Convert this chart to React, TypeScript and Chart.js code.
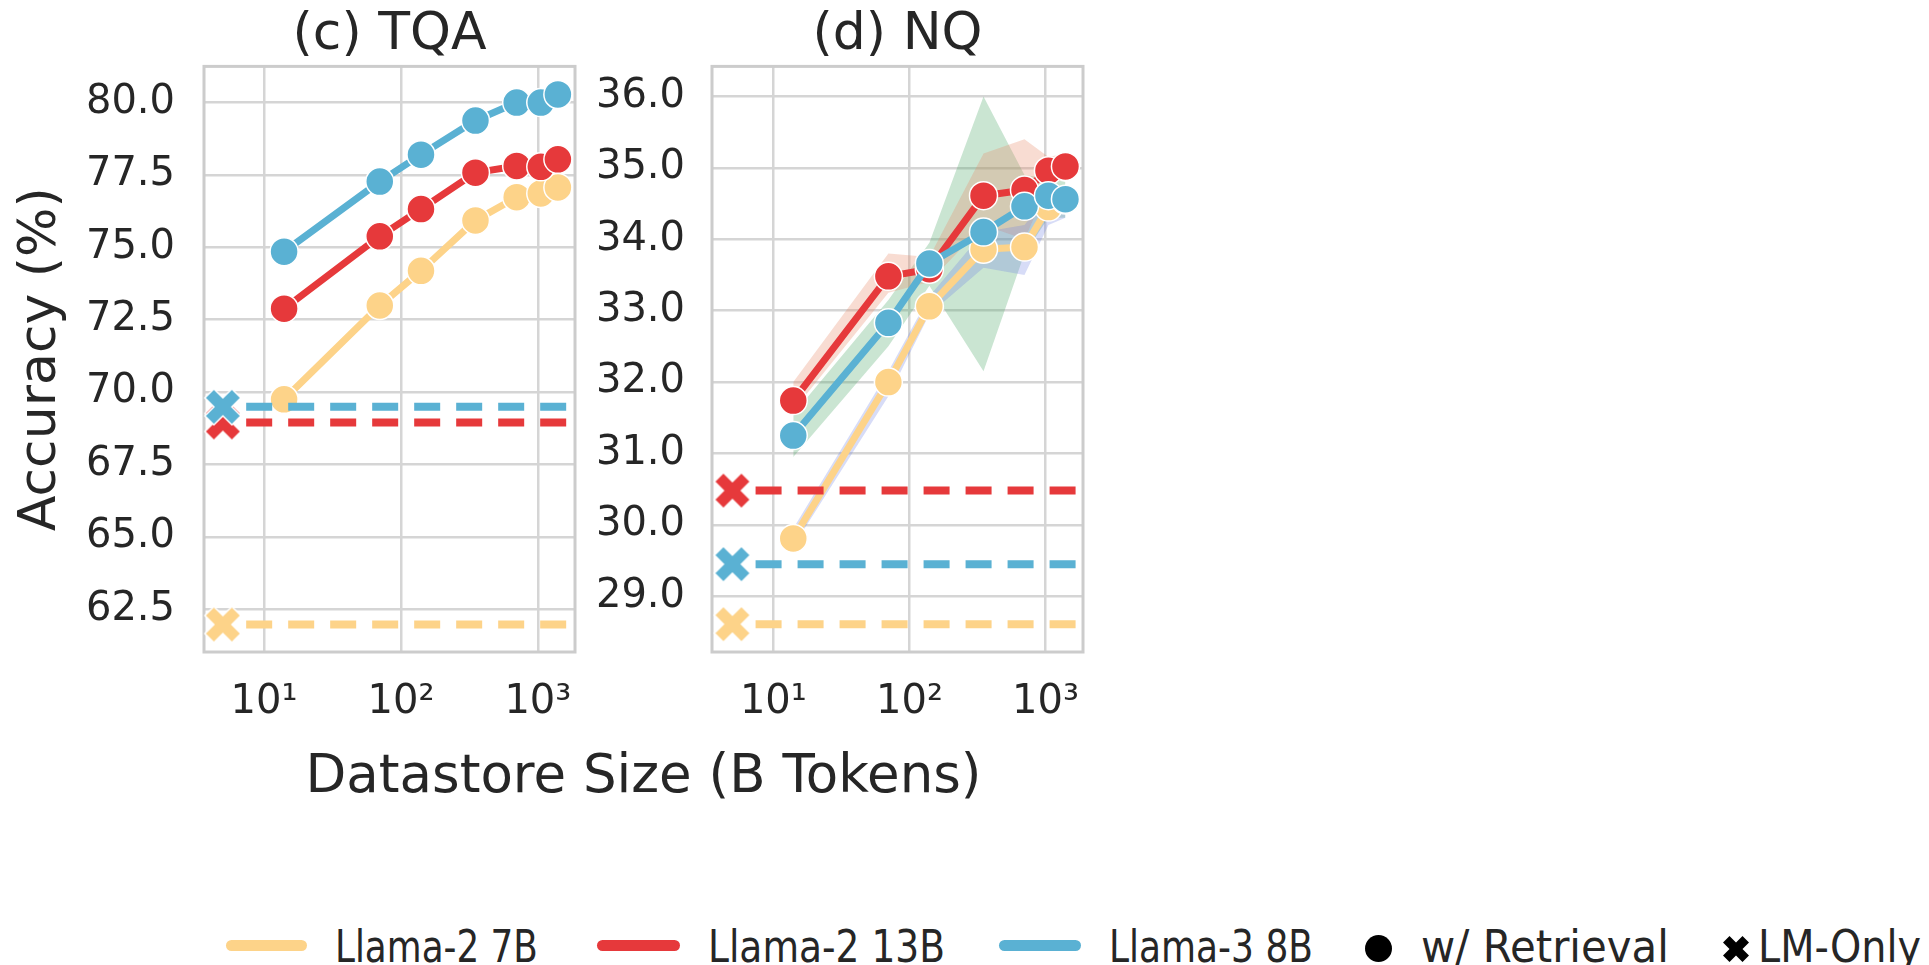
import React, { useEffect, useRef } from "react";
import { Chart, registerables } from "chart.js";

Chart.register(...registerables);

// ---------------- data ----------------
const datastoreSizes = [14, 70, 140, 350, 700, 1050, 1400];
const lmOnlySize = [5];
const lmOnlyLineSpan = [7.4, 1730];
const xTickValues = [10, 100, 1000];
const xTickLabels = ["10¹", "10²", "10³"];
const modelNames = ["Llama-2 7B", "Llama-2 13B", "Llama-3 8B"];

// (c) TQA
const tqaLlama2_7B = [69.75, 72.99, 74.19, 75.93, 76.73, 76.86, 77.07];
const tqaLlama2_13B = [72.88, 75.38, 76.32, 77.58, 77.81, 77.78, 78.04];
const tqaLlama3_8B = [74.85, 77.27, 78.2, 79.38, 80.0, 80.0, 80.28];
const tqaLMOnly = [61.97, 68.95, 69.49];
const tqaYTicks = [62.5, 65.0, 67.5, 70.0, 72.5, 75.0, 77.5, 80.0];
const tqaYRange = [61.02, 81.25];
const tqaXRange = [3.64, 1867];

// (d) NQ
const nqLlama2_7B = [29.81, 32.0, 33.06, 33.86, 33.89, 34.45, 34.55];
const nqLlama2_13B = [31.74, 33.48, 33.58, 34.61, 34.69, 34.96, 35.02];
const nqLlama3_8B = [31.25, 32.83, 33.66, 34.1, 34.46, 34.61, 34.56];
const nqLMOnly = [28.61, 30.48, 29.45];
const nqBand7BLower = [29.7, 31.8, 32.95, 33.6, 33.5, 34.2, 34.3];
const nqBand7BUpper = [29.95, 32.15, 33.2, 34.1, 34.2, 34.6, 34.7];
const nqBand13BLower = [31.6, 33.25, 33.4, 34.2, 34.0, 34.75, 34.85];
const nqBand13BUpper = [32.0, 33.8, 33.75, 35.2, 35.4, 35.15, 35.2];
const nqBand8BLower = [30.95, 32.5, 33.35, 32.15, 33.8, 34.3, 34.3];
const nqBand8BUpper = [31.55, 33.15, 33.95, 36.0, 34.9, 34.85, 34.8];
const nqYTicks = [29.0, 30.0, 31.0, 32.0, 33.0, 34.0, 35.0, 36.0];
const nqYRange = [28.22, 36.42];
const nqXRange = [3.54, 1884];

// ---------------- styles ----------------
const FONT_FAMILY = "'DejaVu Sans', 'Liberation Sans', sans-serif";
const TEXT_COLOR = "#262626";
const GRID_COLOR = "#d5d5d5";
const FRAME_COLOR = "#cccccc";
const MODEL_COLORS = ["#fdd389", "#e6393b", "#5ab1d3"];
const BAND_COLORS = [
  "rgba(110, 130, 225, 0.28)",
  "rgba(232, 140, 105, 0.30)",
  "rgba(80, 170, 105, 0.30)",
];

Chart.defaults.font.family = FONT_FAMILY;
Chart.defaults.color = TEXT_COLOR;

const X_PATH: number[][] = [
  [-1, -2], [0, -1], [1, -2], [2, -1], [1, 0], [2, 1],
  [1, 2], [0, 1], [-1, 2], [-2, 1], [-1, 0], [-2, -1],
];

function xMarkerCanvas(color: string, size: number, edge: number) {
  const c = document.createElement("canvas");
  const pad = 3;
  c.width = size + pad * 2;
  c.height = size + pad * 2;
  const ctx = c.getContext("2d")!;
  const u = size / 4;
  ctx.translate(c.width / 2, c.height / 2);
  ctx.beginPath();
  X_PATH.forEach(([x, y], i) => (i ? ctx.lineTo(x * u, y * u) : ctx.moveTo(x * u, y * u)));
  ctx.closePath();
  ctx.fillStyle = color;
  ctx.fill();
  if (edge > 0) {
    ctx.strokeStyle = "#ffffff";
    ctx.lineWidth = edge;
    ctx.lineJoin = "miter";
    ctx.stroke();
  }
  return c;
}

const framePlugin = {
  id: "frameBox",
  beforeDatasetsDraw(chart: any) {
    const { ctx, chartArea: a } = chart;
    ctx.save();
    ctx.strokeStyle = FRAME_COLOR;
    ctx.lineWidth = 3;
    ctx.strokeRect(a.left, a.top, a.right - a.left, a.bottom - a.top);
    ctx.restore();
  },
};

interface PanelSpec {
  title: string;
  series: number[][];
  lmOnly: number[];
  bandsLower?: number[][];
  bandsUpper?: number[][];
  yRange: number[];
  yTicks: number[];
  xRange: number[];
  yAxisWidth: number;
  yTickPad: number;
  yTitle?: string;
  padRight: number;
}

function buildConfig(spec: PanelSpec): any {
  const toPts = (ys: number[]) => ys.map((y, i) => ({ x: datastoreSizes[i], y }));
  const datasets: any[] = [];
  if (spec.bandsLower && spec.bandsUpper) {
    spec.bandsLower.forEach((lo, m) => {
      datasets.push({
        label: modelNames[m] + " band low",
        data: toPts(lo),
        borderWidth: 0,
        pointRadius: 0,
        fill: false,
        order: 10,
      });
      datasets.push({
        label: modelNames[m] + " band high",
        data: toPts(spec.bandsUpper![m]),
        borderWidth: 0,
        pointRadius: 0,
        fill: "-1",
        backgroundColor: BAND_COLORS[m],
        order: 10,
      });
    });
  }
  spec.series.forEach((ys, m) => {
    datasets.push({
      label: modelNames[m] + " w/ Retrieval",
      data: toPts(ys),
      borderColor: MODEL_COLORS[m],
      backgroundColor: MODEL_COLORS[m],
      borderWidth: 7,
      pointRadius: 14,
      pointBorderWidth: 1.5,
      pointBorderColor: "#ffffff",
      pointBackgroundColor: MODEL_COLORS[m],
      borderJoinStyle: "round",
      borderCapStyle: "round",
      tension: 0,
      fill: false,
      order: 6 - m,
      clip: false,
    });
  });
  spec.lmOnly.forEach((v, m) => {
    datasets.push({
      label: modelNames[m] + " LM-Only line",
      data: lmOnlyLineSpan.map((x) => ({ x, y: v })),
      borderColor: MODEL_COLORS[m],
      borderWidth: 8,
      borderDash: [26, 16],
      borderCapStyle: "butt",
      pointRadius: 0,
      fill: false,
      order: 3 - m,
      clip: false,
    });
    datasets.push({
      label: modelNames[m] + " LM-Only",
      data: lmOnlySize.map((x) => ({ x, y: v })),
      showLine: false,
      pointStyle: xMarkerCanvas(MODEL_COLORS[m], 36, 1.5),
      pointRadius: 18,
      order: 3 - m,
      clip: false,
    });
  });

  return {
    type: "line",
    data: { datasets },
    plugins: [framePlugin],
    options: {
      responsive: false,
      animation: false,
      events: [],
      layout: { padding: { left: 0, top: 0, right: spec.padRight, bottom: 0 } },
      plugins: {
        legend: { display: false },
        tooltip: { enabled: false },
        title: {
          display: true,
          text: spec.title,
          fullSize: false,
          color: TEXT_COLOR,
          font: { size: 52, weight: "normal", family: FONT_FAMILY },
          padding: { top: 4, bottom: 0 },
        },
      },
      scales: {
        x: {
          type: "logarithmic",
          min: spec.xRange[0],
          max: spec.xRange[1],
          bounds: "data",
          afterBuildTicks: (s: any) => {
            s.ticks = xTickValues.map((value) => ({ value }));
          },
          afterFit: (s: any) => {
            s.height = 88;
          },
          ticks: {
            autoSkip: false,
            maxRotation: 0,
            minRotation: 0,
            padding: 27,
            color: TEXT_COLOR,
            font: { size: 40, family: FONT_FAMILY },
            callback: (_v: any, i: number) => xTickLabels[i],
          },
          grid: { color: GRID_COLOR, lineWidth: 2.5, drawTicks: false },
          border: { display: false },
        },
        y: {
          type: "linear",
          min: spec.yRange[0],
          max: spec.yRange[1],
          bounds: "data",
          afterBuildTicks: (s: any) => {
            s.ticks = spec.yTicks.map((value) => ({ value }));
          },
          afterFit: (s: any) => {
            s.width = spec.yAxisWidth;
          },
          ticks: {
            padding: spec.yTickPad,
            color: TEXT_COLOR,
            font: { size: 40, family: FONT_FAMILY },
            callback: (v: any) => Number(v).toFixed(1),
          },
          grid: { color: GRID_COLOR, lineWidth: 2.5, drawTicks: false },
          border: { display: false },
          title: spec.yTitle
            ? {
                display: true,
                text: spec.yTitle,
                color: TEXT_COLOR,
                font: { size: 52, family: FONT_FAMILY },
                padding: { top: 10, bottom: 0 },
              }
            : { display: false },
        },
      },
    },
  };
}

const tqaSpec: PanelSpec = {
  title: "(c) TQA",
  series: [tqaLlama2_7B, tqaLlama2_13B, tqaLlama3_8B],
  lmOnly: tqaLMOnly,
  yRange: tqaYRange,
  yTicks: tqaYTicks,
  xRange: tqaXRange,
  yAxisWidth: 204,
  yTickPad: 29,
  yTitle: "Accuracy (%)",
  padRight: 65,
};

const nqSpec: PanelSpec = {
  title: "(d) NQ",
  series: [nqLlama2_7B, nqLlama2_13B, nqLlama3_8B],
  lmOnly: nqLMOnly,
  bandsLower: [nqBand7BLower, nqBand13BLower, nqBand8BLower],
  bandsUpper: [nqBand7BUpper, nqBand13BUpper, nqBand8BUpper],
  yRange: nqYRange,
  yTicks: nqYTicks,
  xRange: nqXRange,
  yAxisWidth: 152,
  yTickPad: 27,
  padRight: 77,
};

function Panel(props: { spec: PanelSpec; left: number; width: number; height: number }) {
  const ref = useRef<HTMLCanvasElement>(null);
  useEffect(() => {
    const chart = new Chart(ref.current!, buildConfig(props.spec));
    return () => chart.destroy();
  }, []);
  return (
    <canvas
      ref={ref}
      width={props.width}
      height={props.height}
      style={{ position: "absolute", left: props.left, top: 0, width: props.width, height: props.height }}
    />
  );
}

const LEGEND_FONT_SIZE = 45;
const legendTexts = [
  { text: modelNames[0], left: 335, width: 203 },
  { text: modelNames[1], left: 708, width: 237 },
  { text: modelNames[2], left: 1109, width: 204 },
  { text: "w/ Retrieval", left: 1421, width: 248 },
  { text: "LM-Only", left: 1758, width: 163 },
];
const legendLines = [
  { left: 226, width: 81 },
  { left: 597, width: 83 },
  { left: 999, width: 82 },
];

function measure(text: string, size: number) {
  const ctx = document.createElement("canvas").getContext("2d")!;
  ctx.font = `${size}px ${FONT_FAMILY}`;
  return ctx.measureText(text).width || 1;
}

export default function App() {
  const xPathStr =
    X_PATH.map(([x, y], i) => `${i ? "L" : "M"}${(x * 6.5).toFixed(2)} ${(y * 6.5).toFixed(2)}`).join(" ") + " Z";
  return (
    <div
      style={{
        position: "fixed",
        left: 0,
        top: 0,
        width: 1929,
        height: 965,
        overflow: "hidden",
        background: "#ffffff",
        fontFamily: FONT_FAMILY,
        color: TEXT_COLOR,
      }}
    >
      <Panel spec={tqaSpec} left={0} width={640} height={740} />
      <Panel spec={nqSpec} left={560} width={600} height={740} />
      <div
        style={{
          position: "absolute",
          left: 0,
          top: 743,
          width: 1287,
          textAlign: "center",
          fontSize: 53,
          lineHeight: "62px",
          whiteSpace: "nowrap",
        }}
      >
        Datastore Size (B Tokens)
      </div>
      {legendLines.map((l, i) => (
        <div
          key={"ll" + i}
          style={{
            position: "absolute",
            left: l.left,
            top: 940,
            width: l.width,
            height: 11,
            borderRadius: 5.5,
            background: MODEL_COLORS[i],
          }}
        />
      ))}
      <div
        style={{
          position: "absolute",
          left: 1365,
          top: 935,
          width: 27,
          height: 27,
          borderRadius: "50%",
          background: "#000000",
        }}
      />
      <svg
        style={{ position: "absolute", left: 1736 - 14, top: 949 - 14 }}
        width={28}
        height={28}
        viewBox="-14 -14 28 28"
      >
        <path d={xPathStr} fill="#000000" />
      </svg>
      {legendTexts.map((t, i) => {
        const natural = measure(t.text, LEGEND_FONT_SIZE);
        return (
          <div
            key={"lt" + i}
            style={{
              position: "absolute",
              left: t.left,
              top: 921,
              fontSize: LEGEND_FONT_SIZE,
              lineHeight: "52px",
              whiteSpace: "nowrap",
              transformOrigin: "0 0",
              transform: `scaleX(${(t.width / natural).toFixed(3)})`,
            }}
          >
            {t.text}
          </div>
        );
      })}
    </div>
  );
}
